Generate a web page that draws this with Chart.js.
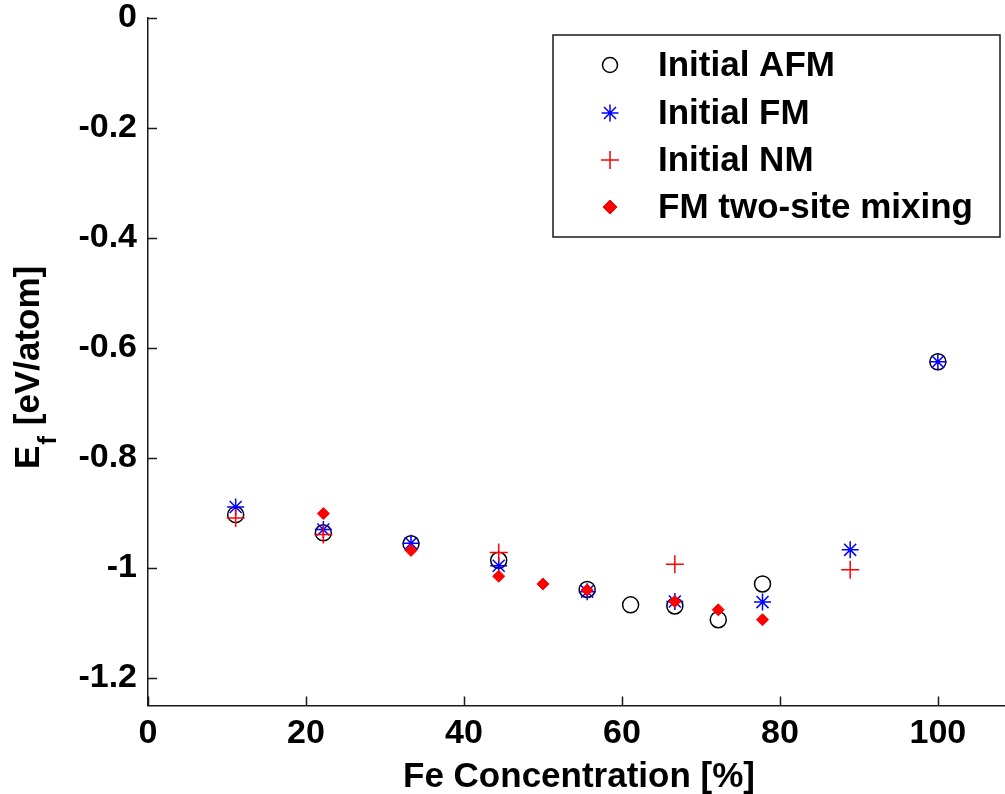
<!DOCTYPE html>
<html>
<head>
<meta charset="utf-8">
<script src="https://cdn.jsdelivr.net/npm/chart.js@4.4.1/dist/chart.umd.min.js"></script>
<style>
  html, body { margin: 0; padding: 0; background: #fff; overflow: hidden; }
  canvas { display: block; }
</style>
</head>
<body>
<canvas id="c" width="1005" height="794"></canvas>
<script>
// Formation energy vs Fe concentration for several initial magnetic configurations
const seriesNames = ['Initial AFM', 'Initial FM', 'Initial NM', 'FM two-site mixing'];

const afmX = [11.1, 22.2, 33.3, 44.4, 55.6, 61.1, 66.7, 72.2, 77.8, 100];
const afmY = [-0.903, -0.936, -0.956, -0.986, -1.039, -1.067, -1.069, -1.094, -1.029, -0.625];

const fmX = [11.1, 22.2, 33.3, 44.4, 55.6, 66.7, 77.8, 88.9, 100];
const fmY = [-0.889, -0.930, -0.955, -0.996, -1.043, -1.061, -1.062, -0.967, -0.625];

const nmX = [11.1, 22.2, 44.4, 66.7, 88.9];
const nmY = [-0.909, -0.939, -0.972, -0.993, -1.003];

const mixX = [22.2, 33.3, 44.4, 50, 55.6, 66.7, 72.2, 77.8];
const mixY = [-0.901, -0.968, -1.015, -1.029, -1.040, -1.061, -1.076, -1.094];

const xTicks = [0, 20, 40, 60, 80, 100];
const yTicks = [0, -0.2, -0.4, -0.6, -0.8, -1, -1.2];
const xTitle = 'Fe Concentration [%]';
const yTitleMain = 'E';
const yTitleSub = 'f';
const yTitleRest = ' [eV/atom]';

const FONT = '"Liberation Sans", Arial, Helvetica, sans-serif';
const AXIS_COLOR = '#1a1a1a';

const pts = (xs, ys) => xs.map((x, i) => ({ x: x, y: ys[i] }));

// Inward-pointing tick marks, axis titles and a boxed legend
const decorations = {
  id: 'decorations',
  afterDraw(chart) {
    const ctx = chart.ctx;
    const xs = chart.scales.x, ys = chart.scales.y;
    const area = chart.chartArea;

    ctx.save();
    ctx.strokeStyle = AXIS_COLOR;
    ctx.lineWidth = 1.5;
    ctx.beginPath();
    xTicks.forEach(v => {
      const px = Math.round(xs.getPixelForValue(v)) + 0.5;
      ctx.moveTo(px, area.bottom);
      ctx.lineTo(px, area.bottom - 9);
    });
    yTicks.forEach(v => {
      const py = Math.round(ys.getPixelForValue(v)) + 0.5;
      ctx.moveTo(area.left, py);
      ctx.lineTo(area.left + 9, py);
    });
    ctx.stroke();

    // x title
    ctx.fillStyle = '#000';
    ctx.font = 'bold 35px ' + FONT;
    ctx.textAlign = 'center';
    ctx.textBaseline = 'alphabetic';
    ctx.fillText(xTitle, 579, 787);

    // y title with subscript, rotated
    ctx.save();
    ctx.translate(39, 469);
    ctx.rotate(-Math.PI / 2);
    ctx.textAlign = 'left';
    ctx.font = 'bold 35px ' + FONT;
    ctx.fillText(yTitleMain, 0, 0);
    const wE = ctx.measureText(yTitleMain).width;
    ctx.font = 'bold 26px ' + FONT;
    ctx.fillText(yTitleSub, wE + 1, 17);
    const wF = ctx.measureText(yTitleSub).width;
    ctx.font = 'bold 35px ' + FONT;
    ctx.fillText(yTitleRest, wE + wF + 2, 0);
    ctx.restore();

    // legend box
    const bx = 553, by = 35, bw = 447, bh = 202;
    ctx.fillStyle = '#fff';
    ctx.fillRect(bx, by, bw, bh);
    ctx.strokeStyle = AXIS_COLOR;
    ctx.lineWidth = 1.5;
    ctx.strokeRect(bx, by, bw, bh);

    const rows = [65, 113, 160, 207];
    chart.data.datasets.forEach((ds, i) => {
      const y = rows[i];
      ctx.save();
      ctx.strokeStyle = ds.borderColor;
      ctx.fillStyle = ds.backgroundColor;
      ctx.lineWidth = ds.borderWidth;
      const opts = { pointStyle: ds.pointStyle, radius: ds.legendRadius, rotation: 0, borderWidth: ds.borderWidth };
      if (Chart.helpers && Chart.helpers.drawPoint) {
        Chart.helpers.drawPoint(ctx, opts, 610, y);
      } else {
        ctx.beginPath();
        ctx.arc(610, y, opts.radius, 0, Math.PI * 2);
        ctx.stroke();
      }
      ctx.restore();
      ctx.fillStyle = '#000';
      ctx.font = 'bold 35px ' + FONT;
      ctx.textAlign = 'left';
      ctx.textBaseline = 'middle';
      ctx.fillText(ds.label, 658, y + 1);
    });
    ctx.restore();
  }
};

new Chart(document.getElementById('c'), {
  type: 'scatter',
  data: {
    datasets: [
      { label: seriesNames[0], data: pts(afmX, afmY), pointStyle: 'circle', pointRadius: 8, legendRadius: 7.5,
        borderColor: '#000', backgroundColor: 'rgba(0,0,0,0)', borderWidth: 1.5, order: 3 },
      { label: seriesNames[1], data: pts(fmX, fmY), pointStyle: 'star', pointRadius: 8.5, legendRadius: 8.5,
        borderColor: '#0000ff', backgroundColor: 'rgba(0,0,0,0)', borderWidth: 1.5, order: 2 },
      { label: seriesNames[2], data: pts(nmX, nmY), pointStyle: 'cross', pointRadius: 9, legendRadius: 9,
        borderColor: '#ff0000', backgroundColor: 'rgba(0,0,0,0)', borderWidth: 1.5, order: 1 },
      { label: seriesNames[3], data: pts(mixX, mixY), pointStyle: 'rectRot', pointRadius: 6, legendRadius: 7,
        borderColor: '#ff0000', backgroundColor: '#ff0000', borderWidth: 1, order: 0 }
    ]
  },
  options: {
    responsive: false,
    animation: false,
    events: [],
    layout: { autoPadding: false, padding: { top: 18, left: 0, right: 0, bottom: 0 } },
    plugins: { legend: { display: false }, tooltip: { enabled: false }, title: { display: false } },
    elements: { point: { hoverRadius: 0 } },
    scales: {
      x: {
        type: 'linear', min: 0, max: 108.5,
        afterBuildTicks: s => { s.ticks = xTicks.map(v => ({ value: v })); },
        afterFit: s => { s.height = 88.5; s.paddingLeft = 0; s.paddingRight = 0; },
        grid: { display: false, drawTicks: false },
        border: { display: true, color: AXIS_COLOR, width: 1.5 },
        ticks: { color: '#000', padding: 8, maxRotation: 0, autoSkip: false,
          font: { family: FONT, size: 34, weight: 'bold' },
          callback: v => String(v) }
      },
      y: {
        type: 'linear', min: -1.25, max: 0,
        afterBuildTicks: s => { s.ticks = yTicks.map(v => ({ value: v })); },
        afterFit: s => { s.width = 148; s.paddingTop = 0; s.paddingBottom = 0; },
        grid: { display: false, drawTicks: false },
        border: { display: true, color: AXIS_COLOR, width: 1.5 },
        ticks: { color: '#000', padding: 11, autoSkip: false,
          font: { family: FONT, size: 34, weight: 'bold' },
          callback: v => String(Number(v.toFixed(1)) || 0) }
      }
    }
  },
  plugins: [decorations]
});
</script>
</body>
</html>
